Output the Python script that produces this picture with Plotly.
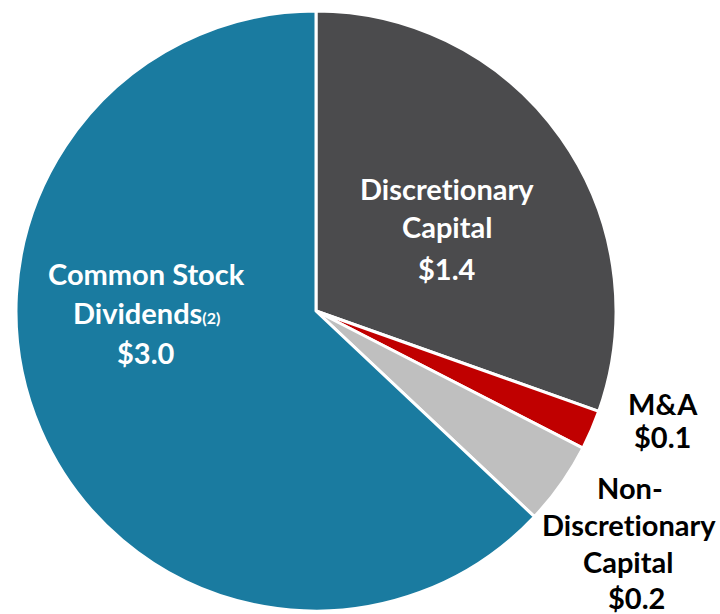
import plotly.graph_objects as go

categories = ["Discretionary Capital", "M&A", "Non-Discretionary Capital", "Common Stock Dividends"]
values = [1.43, 0.10, 0.21, 2.96]
value_labels = ["$1.4", "$0.1", "$0.2", "$3.0"]
colors = ["#4b4b4d", "#c00000", "#bfbfbf", "#1a7ba0"]

W, H = 720, 614

fig = go.Figure(go.Pie(
    labels=categories,
    values=values,
    sort=False,
    direction="clockwise",
    rotation=0,
    marker=dict(colors=colors, line=dict(color="white", width=3)),
    textinfo="none",
    hoverinfo="label+value",
    showlegend=False,
    domain=dict(x=[16 / W, 616 / W], y=[3 / H, 603 / H]),
))

FONT = "Lato, Carlito, Calibri, sans-serif"
ZW = "\u200c"  # breaks the 'ti' ligature

# label lines: (text, x px, y px, color)
label_lines = [
    ("Discret" + ZW + "ionary", 447, 188, "white"),
    ("Capital", 447, 227, "white"),
    (value_labels[0], 447, 268, "white"),
    ("M&A", 663, 403, "black"),
    (value_labels[1], 662, 436, "black"),
    ("Non-", 630, 487, "black"),
    ("Discret" + ZW + "ionary", 629, 524, "black"),
    ("Capital", 628, 561, "black"),
    (value_labels[2], 636, 597, "black"),
    ("Common Stock", 146, 273, "white"),
    ("Dividends<span style='font-size:16px'>(2)</span>", 146, 312, "white"),
    (value_labels[3], 146, 352, "white"),
]

annotations = []
for text, px, py, col in label_lines:
    annotations.append(dict(
        text=text, x=px / W, y=1 - py / H, xref="paper", yref="paper",
        xanchor="center", yanchor="middle", showarrow=False,
        font=dict(family=FONT, size=29, color=col, weight="bold"),
    ))

fig.update_layout(
    width=W, height=H,
    margin=dict(l=0, r=0, t=0, b=0),
    paper_bgcolor="white", plot_bgcolor="white",
    annotations=annotations,
)

fig.write_html(
    "out.html",
    config={"displayModeBar": False},
    post_script="document.body.style.margin='0';document.body.style.overflow='hidden';",
)
